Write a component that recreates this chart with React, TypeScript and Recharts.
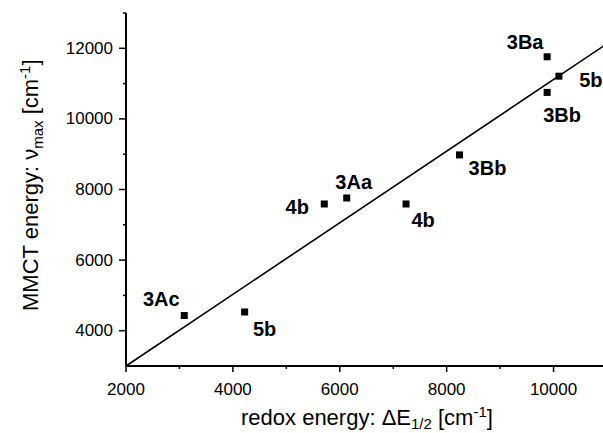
import React from 'react';
import { ScatterChart, Scatter, XAxis, YAxis, ReferenceLine } from 'recharts';

const redox = [3090, 4220, 5710, 6130, 7240, 8240, 9880, 10100, 9880];
const mmct = [4430, 4530, 7590, 7760, 7590, 8980, 11760, 11210, 10750];
const names = ['3Ac', '5b', '4b', '3Aa', '4b', '3Bb', '3Ba', '5b', '3Bb'];
const fitStart = { x: 2000, y: 3000 };
const fitEnd = { x: 11000, y: 12130 };
const xTicks = [2000, 3000, 4000, 5000, 6000, 7000, 8000, 9000, 10000, 11000];
const yTicks = [4000, 5000, 6000, 7000, 8000, 9000, 10000, 11000, 12000, 13000];

// label placement (px offsets of text centre from marker)
const labelOffsets = [
  [-23, -17], [20, 17], [-27, 3], [7, -16], [17, 16], [28, 13], [-22, -15], [32, 4], [15, 23],
];

const points = redox.map((x, i) => ({ x, y: mmct[i], name: names[i], idx: i }));

const FONT = '"Liberation Sans", Arial, sans-serif';

const PointShape = (props: any) => {
  const { cx, cy, payload } = props;
  if (cx == null || cy == null) return null;
  const off = labelOffsets[payload.idx] || [0, 0];
  return (
    <g>
      <rect x={cx - 3.5} y={cy - 3.5} width={7} height={7} fill="#000" />
      <text
        x={cx + off[0]}
        y={cy + off[1]}
        textAnchor="middle"
        dominantBaseline="central"
        fontFamily={FONT}
        fontWeight="bold"
        fontSize={20}
        fill="#000"
      >
        {payload.name}
      </text>
    </g>
  );
};

const YTick = (props: any) => {
  const { x, y, payload } = props;
  const major = payload.value % 2000 === 0;
  return (
    <g>
      <line x1={x - (major ? 7 : 3)} x2={x} y1={y} y2={y} stroke="#000" strokeWidth={1.5} />
      {major && (
        <text x={x - 13} y={y} textAnchor="end" dominantBaseline="central" fontFamily={FONT} fontSize={17} fill="#000">
          {payload.value}
        </text>
      )}
    </g>
  );
};

const XTick = (props: any) => {
  const { x, y, payload } = props;
  const major = payload.value % 2000 === 0;
  return (
    <g>
      <line x1={x} x2={x} y1={y} y2={y + (major ? 6 : 3)} stroke="#000" strokeWidth={1.5} />
      {major && (
        <text x={x} y={y + 23} textAnchor="middle" dominantBaseline="central" fontFamily={FONT} fontSize={17} fill="#000">
          {payload.value}
        </text>
      )}
    </g>
  );
};

export default function App() {
  return (
    <div style={{ position: 'absolute', left: 0, top: 0, width: 603, height: 433, overflow: 'hidden', background: '#fff' }}>
      <ScatterChart width={612} height={433} margin={{ top: 13, right: 5, bottom: 27, left: 0 }}>
        <XAxis
          type="number"
          dataKey="x"
          domain={[2000, 11000]}
          ticks={xTicks}
          interval={0}
          tick={<XTick />}
          tickSize={0}
          tickMargin={0}
          tickLine={false}
          axisLine={{ stroke: '#000', strokeWidth: 2 }}
          height={40}
          allowDataOverflow
        />
        <YAxis
          type="number"
          dataKey="y"
          domain={[3000, 13000]}
          ticks={yTicks}
          interval={0}
          tick={<YTick />}
          tickSize={0}
          tickMargin={0}
          tickLine={false}
          axisLine={{ stroke: '#000', strokeWidth: 2 }}
          width={126}
          allowDataOverflow
        />
        <ReferenceLine segment={[fitStart, fitEnd]} stroke="#000" strokeWidth={1.6} ifOverflow="visible" />
        <Scatter data={points} shape={<PointShape />} isAnimationActive={false} />
        <text x={241} y={425} fontFamily={FONT} fontSize={22} fill="#000">
          redox energy: ΔE
          <tspan dy={4} fontSize={15}>1/2</tspan>
          <tspan dy={-4} fontSize={22}> [cm</tspan>
          <tspan dy={-8} fontSize={15}>-1</tspan>
          <tspan dy={8} fontSize={22}>]</tspan>
        </text>
        <text x={38} y={311} transform="rotate(-90, 38, 311)" fontFamily={FONT} fontSize={22} fill="#000">
          MMCT energy: ν
          <tspan dy={5} fontSize={15}>max</tspan>
          <tspan dy={-5} fontSize={22}> [cm</tspan>
          <tspan dy={-8} fontSize={15}>-1</tspan>
          <tspan dy={8} fontSize={22}>]</tspan>
        </text>
      </ScatterChart>
    </div>
  );
}
